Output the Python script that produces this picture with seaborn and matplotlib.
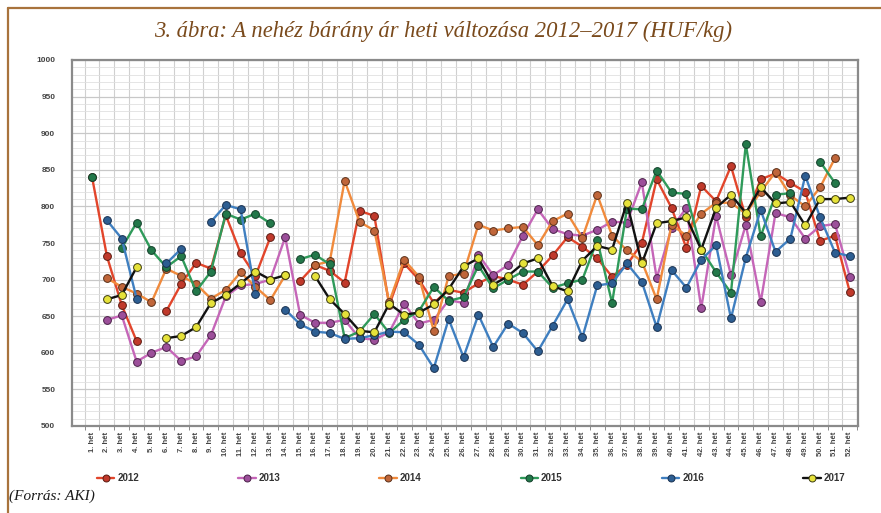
import numpy as np
import pandas as pd
import matplotlib
matplotlib.use("Agg")
import matplotlib.pyplot as plt
import seaborn as sns
from matplotlib.lines import Line2D

nan = np.nan
weeks = list(range(1, 53))
week_labels = [f"{w}. hét" for w in weeks]
years = ["2012", "2013", "2014", "2015", "2016", "2017"]

y2012 = [840, 732, 665, 616, nan, 657, 694, 723, 715, 788, 736, 705, 758, nan, 698, 720, 712, 696, 794, 787,
         665, 722, 700, 668, 686, 682, 695, 705, 700, 693, 711, 733, 758, 745, 729, 704, 720, 750, 837, 798,
         743, 828, 807, 855, 785, 837, 845, 832, 820, 753, 760, 683]
y2013 = [nan, 645, 651, 588, 600, 608, 589, 595, 624, 677, 692, 694, 700, 758, 652, 641, 641, 645, 620, 618,
         628, 667, 640, 645, 672, 668, 734, 706, 720, 760, 796, 769, 762, 760, 768, 779, 778, 833, 702, 770,
         798, 661, 787, 706, 775, 669, 791, 785, 756, 773, 776, 704]
y2014 = [nan, 702, 690, 681, 669, 715, 705, 694, 674, 686, 710, 690, 672, 706, nan, 720, 725, 835, 779, 767,
         669, 727, 704, 630, 705, 708, 775, 767, 770, 772, 747, 780, 790, 757, 816, 760, 740, 725, 673, 775,
         760, 790, 805, 805, 790, 820, 847, 815, 800, 826, 866, nan]
y2015 = [840, nan, 743, 778, 740, 717, 732, 684, 711, 790, 782, 790, 777, nan, 728, 734, 721, 620, 629, 653,
         627, 645, 657, 690, 671, 676, 719, 688, 700, 711, 711, 689, 695, 700, 754, 668, 797, 796, 849, 819,
         817, 741, 710, 682, 885, 759, 816, 818, nan, 861, 832, nan]
y2016 = [nan, 781, 756, 674, nan, 722, 742, nan, 779, 802, 796, 680, nan, 659, 639, 629, 627, 619, 620, 624,
         629, 628, 611, 579, 646, 594, 652, 608, 640, 627, 602, 637, 673, 621, 692, 695, 722, 697, 635, 713,
         689, 727, 747, 647, 730, 795, 738, 756, 842, 785, 737, 732]
y2017 = [nan, 673, 679, 717, nan, 620, 623, 635, 668, 679, 695, 711, 700, 706, nan, 705, 673, 653, 630, 628,
         667, 652, 655, 666, 687, 718, 729, 693, 705, 722, 729, 691, 684, 726, 746, 741, 805, 722, 777, 780,
         785, 741, 798, 816, 791, 826, 804, 806, 774, 810, 810, 812]
series = [y2012, y2013, y2014, y2015, y2016, y2017]

line_colors = ["#e2452b", "#c566b8", "#f08a3c", "#2f9a5a", "#3f7fc0", "#111111"]
face_colors = ["#c0392b", "#9c4f9a", "#c0663a", "#23784a", "#2d5e92", "#e6e23a"]
edge_colors = ["#5a1a10", "#4a2048", "#5a3018", "#12402a", "#183050", "#3a3a10"]

rows = []
for yr, vals in zip(years, series):
    seg = 0
    prev_nan = True
    for w, v in zip(weeks, vals):
        if np.isnan(v):
            prev_nan = True
            continue
        if prev_nan:
            seg += 1
            prev_nan = False
        rows.append({"year": yr, "week": w, "price": v, "seg": seg})
df = pd.DataFrame(rows)

sns.set_style("white")
plt.rcParams["font.family"] = ["DejaVu Sans"]

W, H = 881, 513
fig = plt.figure(figsize=(W / 100, H / 100), dpi=100)
fig.patch.set_facecolor("white")

x0, x1, ytop, ybot = 72, 858, 60, 426
ax = fig.add_axes([x0 / W, (H - ybot) / H, (x1 - x0) / W, (ybot - ytop) / H])

ax.set_ylim(500, 1000)
ax.set_xlim(-0.35, 52.55)
ax.set_yticks(range(500, 1001, 50))
ax.set_yticks(range(500, 1001, 10), minor=True)
ax.set_xticks(weeks)
ax.set_xticklabels(week_labels, rotation=90, fontsize=5.5, color="#444444",
                   fontweight="bold", family="Liberation Sans")
ax.set_xticks([w + 0.5 for w in range(0, 53)], minor=True)
for lab in ax.get_yticklabels():
    lab.set_fontsize(6)
    lab.set_fontweight("bold")
    lab.set_color("#444444")
    lab.set_family("Liberation Sans")
ax.tick_params(axis="y", which="both", length=0, pad=12)
ax.tick_params(axis="x", which="major", length=0, pad=4)
ax.tick_params(axis="x", which="minor", length=3, color="#777777", bottom=True)

ax.grid(which="major", axis="y", color="#c8c8c8", lw=0.9)
ax.grid(which="minor", axis="y", color="#e0e0e0", lw=0.6)
ax.grid(which="minor", axis="x", color="#d0d0d0", lw=0.8)
ax.set_axisbelow(True)
for sp in ax.spines.values():
    sp.set_color("#8a8a8a")
    sp.set_linewidth(1.6)

for yr, lc, fc, ec in zip(years, line_colors, face_colors, edge_colors):
    sub = df[df["year"] == yr]
    sns.lineplot(data=sub, x="week", y="price", units="seg", estimator=None, sort=False,
                 color=lc, linewidth=1.7, marker="o", markersize=5.6,
                 markerfacecolor=fc, markeredgecolor=ec, markeredgewidth=0.7,
                 ax=ax, legend=False)
ax.set_xlabel("")
ax.set_ylabel("")

handles = [Line2D([0], [0], color=lc, lw=1.7, marker="o", markersize=5,
                  markerfacecolor=fc, markeredgecolor=ec, markeredgewidth=0.7)
           for lc, fc, ec in zip(line_colors, face_colors, edge_colors)]
leg = fig.legend(handles, years, ncol=6, loc="lower left",
                 bbox_to_anchor=(88 / W, (H - 492) / H, 766 / W, 20 / H), mode="expand",
                 frameon=False, handlelength=1.8, handletextpad=0.3,
                 prop={"family": "Liberation Sans", "weight": "bold", "size": 7})
for t in leg.get_texts():
    t.set_color("#333333")

fig.text(443 / W, 1 - 31 / H, "3. ábra: A nehéz bárány ár heti változása 2012–2017 (HUF/kg)",
         ha="center", va="center", fontsize=16.3, style="italic", color="#7a4a1c",
         family="Liberation Serif")
fig.text(9 / W, 1 - 496 / H, "(Forrás: AKI)", ha="left", va="center", fontsize=11,
         style="italic", color="#1a1a1a", family="Liberation Serif")

border = "#a8733c"
fig.add_artist(Line2D([8 / W, 1.0], [1 - 8 / H, 1 - 8 / H], color=border, lw=1.6,
                      transform=fig.transFigure))
fig.add_artist(Line2D([8 / W, 8 / W], [0, 1 - 8 / H], color=border, lw=1.6,
                      transform=fig.transFigure))

fig.savefig("out.png", dpi=100)
